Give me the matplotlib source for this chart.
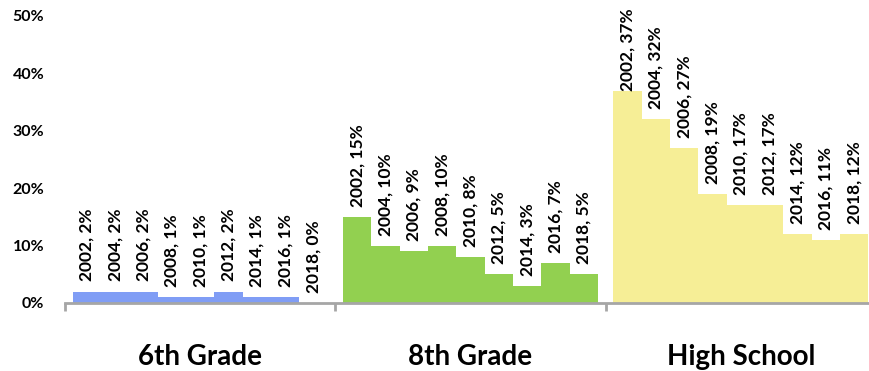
import matplotlib.pyplot as plt
import numpy as np

plt.rcParams["font.family"] = ["Lato", "DejaVu Sans"]

groups = ["6th Grade", "8th Grade", "High School"]
years = ["2002", "2004", "2006", "2008", "2010", "2012", "2014", "2016", "2018"]
grade6 = [2, 2, 2, 1, 1, 2, 1, 1, 0]
grade8 = [15, 10, 9, 10, 8, 5, 3, 7, 5]
high_school = [37, 32, 27, 19, 17, 17, 12, 11, 12]
colors = ["#809DF5", "#92D050", "#F6EE96"]

series = [grade6, grade8, high_school]
group_width = 9.54
pad = 0.27

fig = plt.figure(figsize=(8.69, 3.71), dpi=100)
ax = fig.add_axes([0.0748, 0.1833, 0.9252, 0.7736])

for g, values in enumerate(series):
    x = g * group_width + pad + 0.5 + np.arange(len(values))
    ax.bar(x, values, width=1.0, color=colors[g], linewidth=0)
    for xi, year, v in zip(x, years, values):
        ax.text(xi, min(v + 1.75, 37.0), f"{year}, {v}%", rotation=90,
                ha="center", va="bottom", fontsize=12.5, fontweight="bold",
                bbox=dict(facecolor="white", edgecolor="none", pad=0.6))
    ax.text(g * group_width + group_width / 2, -9.4, groups[g],
            ha="center", va="center", fontsize=20, fontweight="bold")

ax.set_xlim(0, 28.37)
ax.set_ylim(0, 50)
ax.set_yticks(np.arange(0, 51, 10))
ax.set_yticklabels([f"{t}%" for t in range(0, 51, 10)], fontsize=11.5,
                   fontweight="bold")
ax.tick_params(axis="y", length=0, pad=15)
ax.set_xticks([0, group_width, 2 * group_width])
ax.set_xticklabels([])
ax.tick_params(axis="x", direction="out", length=6, width=2, color="#A6A6A6")

for side in ["top", "right", "left"]:
    ax.spines[side].set_visible(False)
ax.spines["bottom"].set_color("#A6A6A6")
ax.spines["bottom"].set_linewidth(2)

fig.savefig("out.png", dpi=100)
